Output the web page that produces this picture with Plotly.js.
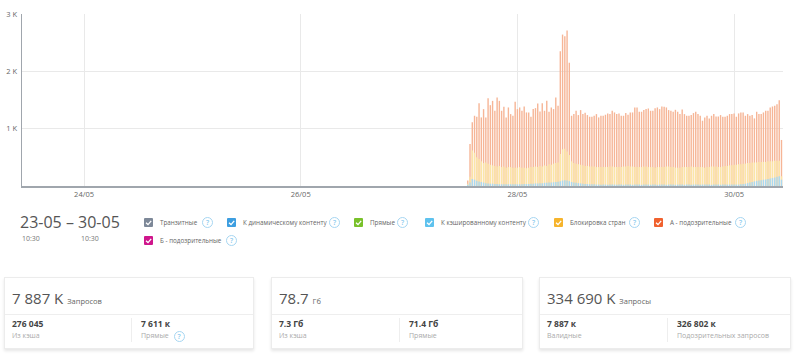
<!DOCTYPE html>
<html><head><meta charset="utf-8">
<script src="https://cdn.plot.ly/plotly-3.0.1.min.js"></script>
<style>
body{margin:0;background:#fff;font-family:"Open Sans",sans-serif;}
#wrap{position:relative;width:800px;height:362px;overflow:hidden;}
#chart{position:absolute;left:0;top:0;width:800px;height:362px;}
.a{position:absolute;white-space:nowrap;}
.cb{position:absolute;width:9px;height:9px;border-radius:1px;}
.cb svg{position:absolute;left:0;top:0;}
.q{position:absolute;width:9px;height:9px;border:1px solid #a6d6f2;border-radius:50%;color:#8ccbee;font-size:7px;line-height:9px;text-align:center;font-weight:600;}
.lg{position:absolute;font-size:6.3px;color:#666;line-height:10px;white-space:nowrap;}
.card{position:absolute;top:277px;height:70px;background:#fff;border:1px solid #ececec;box-shadow:0 2px 3px rgba(0,0,0,0.10);}
.big{position:absolute;top:9px;font-size:15px;color:#555;line-height:22px;white-space:nowrap;}
.big small{font-size:7.5px;color:#666;}
.hr{position:absolute;left:0;right:0;top:36px;border-top:1px solid #eee;}
.vr{position:absolute;top:40px;height:24px;border-left:1px solid #eee;}
.num{position:absolute;top:40px;font-size:8.5px;font-weight:700;color:#444;line-height:12px;white-space:nowrap;}
.lab{position:absolute;top:52px;font-size:7px;color:#aaa;line-height:12px;white-space:nowrap;}
</style></head><body>
<div id="wrap">
<div id="chart"></div>
</div>
<script>
// ---- data ----
const startTime = "2019-05-27T13:00:00Z";
const stepMinutes = 30;
const totalRequests = [
98,734,1110,1225,1208,1445,1196,1341,1196,1532,
1410,1485,1312,1543,1485,1312,1381,1196,1370,1254,
1225,1468,1341,1370,1312,1387,1283,1283,1208,1341,
1358,1439,1300,1445,1312,1485,1295,1370,1341,1543,
1399,2352,2641,2613,2711,2150,1225,
1254,1312,1237,1324,1254,1277,1237,1208,1208,1225,
1254,1196,1225,1225,1243,1266,1254,1312,1283,1254,
1266,1225,1225,1272,1243,1283,1283,1370,1370,
1295,1295,1324,1341,1352,1312,1312,1358,1370,1341,
1387,1381,1370,1324,1312,1295,1329,1295,1254,1335,
1254,1225,1225,1237,1272,1295,1254,1225,1139,
1196,1225,1179,1225,1254,1214,1214,1237,1208,1208,
1225,1254,1254,1266,1208,1266,1283,1283,1225,1254,
1225,1237,1179,1295,1254,1254,1283,1312,1312,1370,
1387,1399,1428,1497,803];
const blockedCumulative = [
40,160,620,580,500,470,430,400,410,390,
370,360,350,340,350,330,340,320,330,330,
320,320,320,330,320,320,310,320,330,330,
340,330,350,340,360,350,380,370,390,400,
410,560,640,650,600,540,430,
400,390,380,370,360,350,350,340,340,340,
330,330,330,330,330,330,340,340,330,330,
330,330,340,340,350,340,340,330,330,330,
330,340,340,330,330,330,320,330,330,330,
330,340,340,330,330,320,320,320,330,330,
330,330,340,330,330,330,330,330,320,330,
330,340,340,340,330,330,340,350,350,360,
360,370,370,380,380,390,390,400,400,410,
410,410,420,420,420,420,430,430,430,440,
440,440,170];
const cachedRequests = [
20,60,120,110,90,80,70,60,50,45,
40,40,35,35,30,30,30,30,30,30,
30,30,30,30,30,35,35,35,40,40,
45,45,50,50,55,55,60,60,65,70,
75,85,95,100,95,85,70,
60,55,50,45,40,35,35,30,30,30,
25,25,20,25,25,20,25,25,25,20,
25,25,20,25,25,25,20,25,25,25,
20,25,25,25,20,25,25,20,25,25,
25,20,25,25,25,20,25,25,25,20,
25,25,20,25,25,25,20,25,25,25,
25,20,25,25,25,20,25,25,25,25,
25,25,25,25,30,35,40,50,60,70,
80,90,95,100,110,115,120,130,140,150,
160,170,110];
const yTickVals = [1000,2000,3000];
const yTickText = ["1 K","2 K","3 K"];

function fmt(d){const p=n=>String(n).padStart(2,"0");
 return d.getUTCFullYear()+"-"+p(d.getUTCMonth()+1)+"-"+p(d.getUTCDate())+" "+p(d.getUTCHours())+":"+p(d.getUTCMinutes());}
const t0 = new Date(startTime).getTime();
const times = totalRequests.map((_,i)=>fmt(new Date(t0+i*stepMinutes*60000)));

const traces = [
 {type:"bar",x:times,y:totalRequests,name:"А - подозрительные",marker:{color:"#f6b596",line:{width:0}},hoverinfo:"skip"},
 {type:"bar",x:times,y:blockedCumulative,name:"Блокировка стран",marker:{color:"#fbe6a6",line:{width:0}},hoverinfo:"skip"},
 {type:"bar",x:times,y:cachedRequests,name:"К кэшированному контенту",marker:{color:"#a9d9f2",line:{width:0}},hoverinfo:"skip"}
];
const layout = {
 width:800,height:362,margin:{l:22,r:17,t:14,b:176},
 paper_bgcolor:"rgba(0,0,0,0)",plot_bgcolor:"#fff",
 barmode:"overlay",bargap:0.38,showlegend:false,
 font:{family:"Open Sans, sans-serif",size:8,color:"#666"},
 xaxis:{type:"date",range:["2019-05-23 10:15","2019-05-30 10:50"],tick0:"2019-05-24",dtick:2*86400000,
   tickformat:"%d/%m",showgrid:true,gridcolor:"#e9e9e9",gridwidth:1,showline:true,linecolor:"#a0a6ad",linewidth:1.5,
   ticks:"",tickfont:{size:7.5,color:"#666"},zeroline:false},
 yaxis:{range:[0,3000],tickvals:yTickVals,ticktext:yTickText,showgrid:true,gridcolor:"#e9e9e9",showline:true,
   linecolor:"#a0a6ad",linewidth:1.5,ticks:"",tickfont:{size:7.5,color:"#666"},zeroline:false,ticklabelstandoff:2}
};
Plotly.newPlot("chart",traces,layout,{displayModeBar:false,staticPlot:true});

// ---- legend / info panel ----
const legendItems = [
 {label:"Транзитные",color:"#7d8898",x:144,y:218,q:202},
 {label:"К динамическому контенту",color:"#3d9ee0",x:227,y:218,q:329},
 {label:"Прямые",color:"#79c12a",x:354,y:218,q:397},
 {label:"К кэшированному контенту",color:"#5ec2ee",x:425,y:218,q:528},
 {label:"Блокировка стран",color:"#f6b42c",x:554,y:218,q:629},
 {label:"А - подозрительные",color:"#f0612e",x:654,y:218,q:735},
 {label:"Б - подозрительные",color:"#cf168c",x:144,y:236,q:226}
];
const wrap=document.getElementById("wrap");
function add(html){wrap.insertAdjacentHTML("beforeend",html);}
add('<div class="a" style="left:20px;top:211px;font-size:16px;color:#555;line-height:22px;">23-05 – 30-05</div>');
add('<div class="a" style="left:22px;top:234px;font-size:7px;color:#777;">10:30</div>');
add('<div class="a" style="left:81px;top:234px;font-size:7px;color:#777;">10:30</div>');
legendItems.forEach(it=>{
 add('<div class="cb" style="left:'+it.x+'px;top:'+it.y+'px;background:'+it.color+'"><svg width="9" height="9"><polyline points="2,4.8 4,6.6 7.2,2.8" fill="none" stroke="#fff" stroke-width="1.3"/></svg></div>');
 add('<div class="lg" style="left:'+(it.x+16)+'px;top:'+(it.y-0.5)+'px">'+it.label+'</div>');
 add('<div class="q" style="left:'+it.q+'px;top:'+(it.y-1)+'px">?</div>');
});
// cards
const cards = [
 {left:4,w:248,big:"7 887 K",unit:"Запросов",n1:"276 045",l1:"Из кэша",n2:"7 611 к",l2:"Прямые",q:true,col2:136,div:126},
 {left:271,w:250,big:"78.7",unit:"Гб",n1:"7.3 Гб",l1:"Из кэша",n2:"71.4 Гб",l2:"Прямые",q:false,col2:137,div:127},
 {left:539,w:250,big:"334 690 K",unit:"Запросы",n1:"7 887 к",l1:"Валидные",n2:"326 802 к",l2:"Подозрительных запросов",q:false,col2:137,div:127}
];
cards.forEach(c=>{
 let h='<div class="card" style="left:'+c.left+'px;width:'+c.w+'px">';
 h+='<div class="big" style="left:7px">'+c.big+' <small>'+c.unit+'</small></div>';
 h+='<div class="hr"></div><div class="vr" style="left:'+c.div+'px"></div>';
 h+='<div class="num" style="left:7px">'+c.n1+'</div><div class="lab" style="left:7px">'+c.l1+'</div>';
 h+='<div class="num" style="left:'+c.col2+'px">'+c.n2+'</div><div class="lab" style="left:'+c.col2+'px">'+c.l2+(c.q?'<span class="q" style="position:relative;display:inline-block;left:5px;top:1px">?</span>':'')+'</div>';
 h+='</div>';
 add(h);
});
</script>
</body></html>
